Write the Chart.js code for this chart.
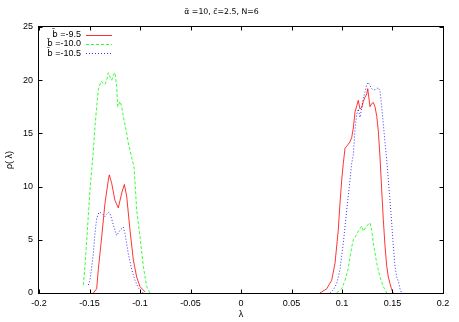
<!DOCTYPE html>
<html>
<head>
<meta charset="utf-8">
<script src="https://cdn.jsdelivr.net/npm/chart.js@4.4.1/dist/chart.umd.min.js"></script>
<style>
  html, body { margin: 0; padding: 0; background: #fff; }
  canvas { display: block; }
</style>
</head>
<body>
<canvas id="rhoChart" width="459" height="322"></canvas>
<script>
// b = -9.5
const lamA = [-0.1462, -0.1429, -0.1413, -0.1379, -0.1347, -0.1314, -0.1304, -0.1280, -0.1248, -0.1215, -0.1181, -0.1155, -0.1132, -0.1099, -0.1066, -0.1033, -0.1000, -0.0950,
  0,
  0.0780, 0.0799, 0.0849, 0.0898, 0.0931, 0.0963, 0.0980, 0.0997, 0.1013, 0.1030, 0.1047, 0.1079, 0.1096, 0.1112, 0.1129, 0.1146, 0.1161, 0.1178, 0.1195, 0.1211,
  0.1228, 0.1245, 0.1255, 0.1277, 0.1294, 0.1310, 0.1327, 0.1344, 0.1359, 0.1376, 0.1393, 0.1409, 0.1426, 0.1443, 0.1459, 0.1475, 0.1492, 0.1508];
const rhoA = [0, 0.4, 2.2, 5.3, 8.4, 10.6, 11.1, 10.3, 8.7, 8.0, 9.4, 10.2, 9.1, 5.9, 3.1, 1.5, 0.6, 0.1,
  null,
  0, 0.1, 0.4, 1.2, 2.8, 5.9, 8.4, 10.6, 12.2, 13.6, 13.8, 14.2, 14.6, 15.5, 17.0, 17.6, 18.1, 17.3, 17.4, 18.0,
  18.4, 18.7, 19.2, 17.5, 17.8, 17.9, 17.5, 16.6, 15.3, 12.8, 9.7, 6.9, 4.4, 2.5, 1.5, 0.9, 0.3, 0];

// b = -10.0
const lamB = [-0.1561, -0.1545, -0.1512, -0.1495, -0.1478, -0.1462, -0.1446, -0.1429, -0.1413, -0.1386, -0.1363, -0.1347, -0.1330, -0.1314, -0.1297, -0.1280, -0.1264,
  -0.1248, -0.1231, -0.1221, -0.1198, -0.1181, -0.1165, -0.1132, -0.1116, -0.1082, -0.1060, -0.1045, -0.1033, -0.1000, -0.0967, -0.0934, -0.0901,
  0,
  0.0948, 0.0997, 0.1030, 0.1062, 0.1079, 0.1096, 0.1112, 0.1146, 0.1161, 0.1195, 0.1211, 0.1245, 0.1277, 0.1294, 0.1310, 0.1344, 0.1376, 0.1409, 0.1443];
const rhoB = [0.75, 2.5, 7.2, 9.7, 11.6, 13.4, 15.6, 17.5, 19.1, 19.9, 19.7, 19.6, 20.0, 20.7, 20.3, 20.0, 20.5,
  20.7, 19.4, 17.5, 18.0, 17.5, 16.6, 15.0, 14.1, 12.7, 11.9, 9.7, 7.8, 5.3, 2.5, 0.6, 0,
  null,
  0, 0.4, 1.2, 2.3, 3.4, 4.3, 5.0, 5.5, 5.8, 6.3, 5.8, 6.3, 6.6, 5.9, 4.7, 2.8, 1.5, 0.6, 0];

// b = -10.5
const lamC = [-0.1512, -0.1495, -0.1462, -0.1446, -0.1429, -0.1406, -0.1379, -0.1347, -0.1314, -0.1297, -0.1264, -0.1231, -0.1198, -0.1165, -0.1149, -0.1116, -0.1082, -0.1050, -0.1017, -0.0983, -0.0967,
  0,
  0.0881, 0.0914, 0.0948, 0.0980, 0.1013, 0.1047, 0.1079, 0.1096, 0.1112, 0.1129, 0.1146, 0.1161, 0.1178, 0.1195, 0.1211,
  0.1228, 0.1245, 0.1260, 0.1277, 0.1294, 0.1310, 0.1327, 0.1344, 0.1359, 0.1376,
  0.1393, 0.1409, 0.1426, 0.1443, 0.1459, 0.1475, 0.1492, 0.1508, 0.1525, 0.1542, 0.1558, 0.1574, 0.1591];
const rhoC = [0.75, 1.2, 3.7, 5.6, 7.0, 7.6, 7.5, 7.2, 7.6, 7.5, 6.4, 5.4, 5.9, 6.2, 5.6, 3.7, 2.2, 1.2, 0.5, 0.1, 0,
  null,
  0, 0.3, 0.9, 2.2, 4.7, 7.8, 10.6, 12.2, 13.0, 15.4, 16.8, 17.3, 16.5, 17.4, 18.3,
  18.9, 19.6, 19.8, 19.5, 19.2, 19.1, 19.1, 19.2, 19.3, 19.0,
  17.5, 15.9, 14.1, 12.5, 10.6, 8.7, 6.6, 4.4, 2.5, 1.5, 1.1, 0.4, 0];

const seriesNames = ['b\u0303 =-9.5', 'b\u0303 =-10.0', 'b\u0303 =-10.5'];
const titleText = '\u03b1\u0303 =10, c\u0303=2.5, N=6';
const xLabel = '\u03bb';
const yLabel = '\u03c1( \u03bb)';

const FONT = '"Liberation Sans", Arial, sans-serif';
const MARKFONT = '"DejaVu Sans", sans-serif';

function pairs(xs, ys) {
  return xs.map((x, i) => ({ x: x, y: ys[i] }));
}

// gnuplot style: inward ticks on all four sides, frame, key in the top left
const framePlugin = {
  id: 'frame',
  afterDatasetsDraw(chart) {
    const ctx = chart.ctx;
    const a = chart.chartArea;
    const xs = chart.scales.x, ys = chart.scales.y;
    const L = Math.round(a.left) - 0.5, R = Math.round(a.right) + 0.5;
    const T = Math.round(a.top) - 0.5, B = Math.round(a.bottom) + 0.5;
    ctx.save();
    ctx.strokeStyle = '#000';
    ctx.lineWidth = 1;
    ctx.beginPath();
    xs.ticks.forEach(t => {
      const px = Math.round(xs.getPixelForValue(t.value)) + 0.5;
      ctx.moveTo(px, B); ctx.lineTo(px, B - 4);
      ctx.moveTo(px, T); ctx.lineTo(px, T + 4);
    });
    ys.ticks.forEach(t => {
      const py = Math.round(ys.getPixelForValue(t.value)) + 0.5;
      ctx.moveTo(L, py); ctx.lineTo(L + 4, py);
      ctx.moveTo(R, py); ctx.lineTo(R - 4, py);
    });
    ctx.stroke();
    ctx.strokeRect(L, T, R - L, B - T);

    // key: the b-tilde goes in a font that places the combining mark properly
    ctx.textAlign = 'right';
    ctx.textBaseline = 'middle';
    chart.data.datasets.forEach((ds, i) => {
      const y = 34.5 + i * 9.4;
      const head = ds.label.slice(0, 2), rest = ds.label.slice(2);
      ctx.fillStyle = '#000';
      ctx.font = '9px ' + FONT;
      ctx.fillText(rest, 81, y);
      const w = ctx.measureText(rest).width;
      ctx.font = '8.5px ' + MARKFONT;
      ctx.fillText(head, 81 - w, y);
      ctx.strokeStyle = ds.borderColor;
      ctx.lineWidth = ds.borderWidth;
      ctx.setLineDash(ds.borderDash || []);
      ctx.beginPath();
      ctx.moveTo(86, Math.round(y) + 0.5);
      ctx.lineTo(112, Math.round(y) + 0.5);
      ctx.stroke();
      ctx.setLineDash([]);
    });
    ctx.restore();
  }
};

new Chart(document.getElementById('rhoChart'), {
  type: 'line',
  data: {
    datasets: [
      { label: seriesNames[0], data: pairs(lamA, rhoA), borderColor: 'rgb(255,0,0)', borderWidth: 0.8 },
      { label: seriesNames[1], data: pairs(lamB, rhoB), borderColor: 'rgb(0,255,0)', borderWidth: 0.8, borderDash: [3, 2] },
      { label: seriesNames[2], data: pairs(lamC, rhoC), borderColor: 'rgb(0,0,255)', borderWidth: 0.8, borderDash: [1, 2] }
    ]
  },
  options: {
    responsive: false,
    animation: false,
    spanGaps: false,
    layout: { padding: { left: 0, right: 16, top: 0, bottom: 0 } },
    elements: { point: { radius: 0 }, line: { tension: 0 } },
    plugins: {
      legend: { display: false },
      tooltip: { enabled: false },
      title: {
        display: true,
        text: titleText,
        color: '#000',
        font: { family: MARKFONT, size: 7.8, weight: 'normal' },
        padding: { top: 7.3, bottom: 10.3 }
      }
    },
    scales: {
      x: {
        type: 'linear',
        min: -0.2,
        max: 0.2,
        grid: { display: false, drawTicks: false, tickLength: 0 },
        border: { display: false },
        afterFit: s => { s.height = 29; },
        ticks: {
          stepSize: 0.05,
          padding: 5,
          color: '#000',
          maxRotation: 0,
          font: { family: FONT, size: 9 },
          callback: v => parseFloat(v.toFixed(2)).toString()
        },
        title: { display: true, text: xLabel, color: '#000', font: { family: FONT, size: 9 }, padding: { top: 0, bottom: 2 } }
      },
      y: {
        min: 0,
        max: 25,
        grid: { display: false, drawTicks: false, tickLength: 0 },
        border: { display: false },
        afterFit: s => { s.width = 39; },
        ticks: {
          stepSize: 5,
          padding: 6,
          color: '#000',
          font: { family: FONT, size: 9 }
        },
        title: { display: true, text: yLabel, color: '#000', font: { family: FONT, size: 9 }, padding: { top: 4.6, bottom: 0 } }
      }
    }
  },
  plugins: [framePlugin]
});
</script>
</body>
</html>
